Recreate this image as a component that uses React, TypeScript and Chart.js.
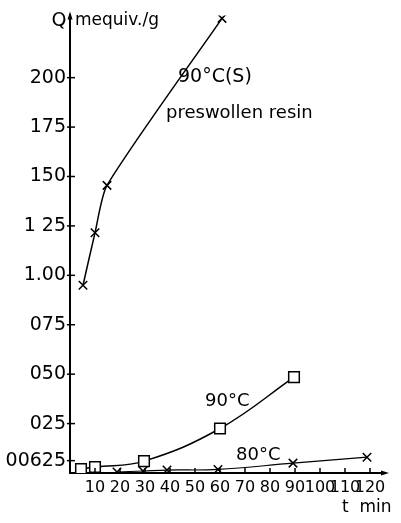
import React, { useEffect, useRef } from "react";
import { Chart, registerables } from "chart.js";

Chart.register(...registerables);

// 90°C (S) preswollen resin
const sTimes = [5.2, 10, 14.8, 60.8];
const sValues = [0.95, 1.215, 1.455, 2.3];
// 90°C
const hTimes = [4.4, 10, 29.6, 60, 89.6];
const hValues = [0.02, 0.03, 0.06, 0.225, 0.485];
// 80°C
const lTimes = [18.8, 29.2, 38.8, 59.2, 89.2, 118.8];
const lValues = [0.005, 0.01, 0.015, 0.018, 0.05, 0.08];

const xTickValues = [10, 20, 30, 40, 50, 60, 70, 80, 90, 100, 110, 120];
const xTickLabels = ["10", "20", "30", "40", "50", "60", "70", "80", "90", "100", "110", "120"];
const yTickValues = [0.0625, 0.25, 0.5, 0.75, 1.0, 1.25, 1.5, 1.75, 2.0];
const yTickLabels = ["00625", "025", "050", "075", "1.00", "1 25", "150", "175", "200"];

const FONT = "'DejaVu Sans', sans-serif";

const toXY = (xs: number[], ys: number[]) => xs.map((x, i) => ({ x, y: ys[i] }));

const decor = {
  id: "decor",
  afterDraw(chart: any) {
    const ctx = chart.ctx as CanvasRenderingContext2D;
    const xs = chart.scales.x;
    const ys = chart.scales.y;
    const area = chart.chartArea;
    ctx.save();
    ctx.strokeStyle = "#000";
    ctx.fillStyle = "#000";
    ctx.lineWidth = 1.5;
    // y ticks
    yTickValues.forEach((v) => {
      const py = ys.getPixelForValue(v);
      ctx.beginPath();
      ctx.moveTo(area.left - 3, py);
      ctx.lineTo(area.left + 5, py);
      ctx.stroke();
    });
    // x ticks
    xTickValues.forEach((v) => {
      const px = xs.getPixelForValue(v);
      ctx.beginPath();
      ctx.moveTo(px, area.bottom);
      ctx.lineTo(px, area.bottom - 5);
      ctx.stroke();
    });
    // arrows
    ctx.beginPath();
    ctx.moveTo(area.left, area.top - 4);
    ctx.lineTo(area.left - 2.5, area.top + 4);
    ctx.lineTo(area.left + 2.5, area.top + 4);
    ctx.closePath();
    ctx.fill();
    ctx.beginPath();
    ctx.moveTo(area.right + 4, area.bottom);
    ctx.lineTo(area.right - 4, area.bottom - 2.5);
    ctx.lineTo(area.right - 4, area.bottom + 2.5);
    ctx.closePath();
    ctx.fill();
    // texts
    ctx.textBaseline = "middle";
    ctx.font = `19px ${FONT}`;
    ctx.textAlign = "center";
    ctx.fillText("Q", 59, 21);
    ctx.textAlign = "left";
    ctx.font = `17px ${FONT}`;
    ctx.fillText("mequiv./g", 75, 21);
    ctx.font = `19px ${FONT}`;
    ctx.fillText("90°C(S)", 178, 77);
    ctx.font = `18px ${FONT}`;
    ctx.fillText("preswollen resin", 166, 113);
    ctx.font = `18px ${FONT}`;
    ctx.fillText("90°C", 205, 401);
    ctx.fillText("80°C", 236, 455);
    ctx.font = `17px ${FONT}`;
    ctx.fillText("t  min", 342, 508);
    ctx.restore();
  },
};

export default function App() {
  const ref = useRef<HTMLCanvasElement>(null);
  useEffect(() => {
    document.body.style.margin = "0";
    const common = {
      borderColor: "#000",
      borderWidth: 1.5,
      pointBorderColor: "#000",
      pointBorderWidth: 1.5,
      tension: 0.4,
      fill: false,
    };
    const chart = new Chart(ref.current!, {
      type: "line",
      data: {
        datasets: [
          {
            ...common,
            label: "90°C(S)",
            data: toXY(sTimes, sValues),
            pointStyle: "crossRot",
            pointRadius: 6,
            tension: 0.22,
          },
          {
            ...common,
            label: "90°C",
            data: toXY(hTimes, hValues),
            pointStyle: "rect",
            pointRadius: 7.5,
            pointBackgroundColor: "#fff",
          },
          {
            ...common,
            label: "80°C",
            data: toXY(lTimes, lValues),
            pointStyle: "crossRot",
            pointRadius: 6,
            borderWidth: 1.2,
          },
        ],
      },
      options: {
        animation: false,
        responsive: false,
        layout: { padding: { top: 10, right: 16, left: 0, bottom: 0 } },
        plugins: { legend: { display: false }, tooltip: { enabled: false } },
        scales: {
          x: {
            type: "linear",
            min: 0,
            max: 126,
            grid: { display: false, drawTicks: false },
            border: { display: true, color: "#000", width: 2 },
            afterBuildTicks: (s: any) => {
              s.ticks = xTickValues.map((v) => ({ value: v }));
            },
            afterFit: (s: any) => {
              s.height = 50;
            },
            ticks: {
              autoSkip: false,
              maxRotation: 0,
              padding: 5,
              color: "#000",
              font: { family: FONT, size: 16 },
              callback: (v: any) => {
                const i = xTickValues.indexOf(Number(v));
                return i >= 0 ? xTickLabels[i] : "";
              },
            },
          },
          y: {
            type: "linear",
            min: 0,
            max: 2.315,
            grid: { display: false, drawTicks: false },
            border: { display: true, color: "#000", width: 2 },
            afterBuildTicks: (s: any) => {
              s.ticks = yTickValues.map((v) => ({ value: v }));
            },
            afterFit: (s: any) => {
              s.width = 70;
            },
            ticks: {
              autoSkip: false,
              padding: 4,
              color: "#000",
              font: { family: FONT, size: 19 },
              callback: (v: any) => {
                const i = yTickValues.indexOf(Number(v));
                return i >= 0 ? yTickLabels[i] : "";
              },
            },
          },
        },
      },
      plugins: [decor],
    });
    return () => chart.destroy();
  }, []);
  return <canvas ref={ref} width={401} height={523} style={{ display: "block" }} />;
}
